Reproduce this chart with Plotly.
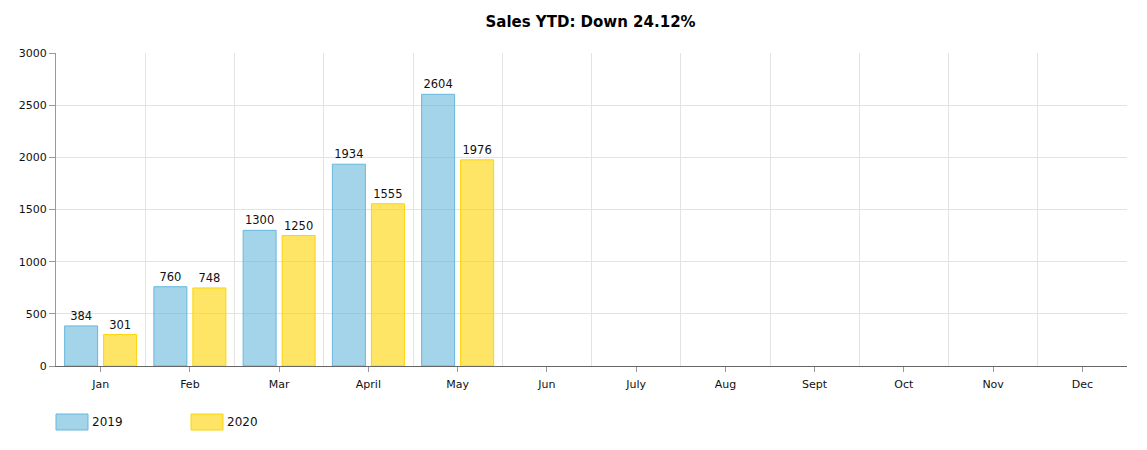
import plotly.graph_objects as go

months = ["Jan", "Feb", "Mar", "April", "May", "Jun", "July", "Aug", "Sept", "Oct", "Nov", "Dec"]
sales_2019 = [384, 760, 1300, 1934, 2604]
sales_2020 = [301, 748, 1250, 1555, 1976]
series_names = ["2019", "2020"]
title_text = "Sales YTD: Down 24.12%"

fill_colors = ["rgba(103,183,220,0.6)", "rgba(253,212,0,0.6)"]
line_colors = ["#67b7dc", "#fdd400"]
FONT = "DejaVu Sans, Verdana, sans-serif"

x_idx = list(range(len(months)))

fig = go.Figure()
for name, vals, fc, lc in zip(series_names, [sales_2019, sales_2020], fill_colors, line_colors):
    fig.add_trace(go.Bar(
        x=x_idx[:len(vals)], y=vals, name=name,
        marker=dict(color=fc, line=dict(color=lc, width=1)),
        text=[str(v) for v in vals], textposition="outside",
        textfont=dict(size=11.5, color="#111", family=FONT),
        cliponaxis=False, showlegend=False,
    ))

# page body has a small offset; figure is sized to fit the 1147x450 window
fig.update_layout(
    width=1140, height=442,
    margin=dict(l=48, r=21, t=45, b=84),
    paper_bgcolor="white", plot_bgcolor="white",
    barmode="group", bargap=0.126, bargroupgap=0.154,
    title=dict(text="<b>" + title_text + "</b>", x=0.511, xanchor="center", y=(442 - 14) / 442, yanchor="middle",
               font=dict(size=15, color="#000", family=FONT)),
    font=dict(family=FONT, size=11, color="#000"),
    xaxis=dict(
        range=[-0.5, len(months) - 0.5], tickvals=x_idx, ticktext=months,
        showgrid=False, showline=True, linecolor="#666", linewidth=1,
        ticks="outside", ticklen=5, tickcolor="#999", zeroline=False,
        ticklabelstandoff=3,
        tickfont=dict(size=11, color="#111", family=FONT),
        minor=dict(tickvals=[i + 0.5 for i in x_idx[:-1]], showgrid=True, gridcolor="#e3e3e3", gridwidth=1, ticklen=0),
    ),
    yaxis=dict(
        range=[0, 3000], tickvals=[0, 500, 1000, 1500, 2000, 2500, 3000],
        showgrid=True, gridcolor="#e3e3e3", showline=True, linecolor="#999", linewidth=1,
        ticks="outside", ticklen=6, tickcolor="#999", zeroline=False,
        tickfont=dict(size=11, color="#111", family=FONT),
    ),
)

# legend drawn as layout shapes + text (absolute page pixels converted to plot-area fractions)
legend_x = [55, 190]
for i, (name, fc, lc) in enumerate(zip(series_names, fill_colors, line_colors)):
    x0 = legend_x[i]
    fig.add_shape(type="rect", xref="paper", yref="paper",
                  x0=(x0 - 55) / 1071, x1=(x0 + 32 - 55) / 1071,
                  y0=-(430 - 366) / 313, y1=-(414 - 366) / 313,
                  fillcolor=fc, line=dict(color=lc, width=1))
    fig.add_annotation(xref="paper", yref="paper", x=(x0 + 34 - 55) / 1071, y=-(422 - 366) / 313,
                       text=name, showarrow=False, xanchor="left", yanchor="middle",
                       font=dict(size=12, color="#111", family=FONT))

fig.write_html("out.html")
